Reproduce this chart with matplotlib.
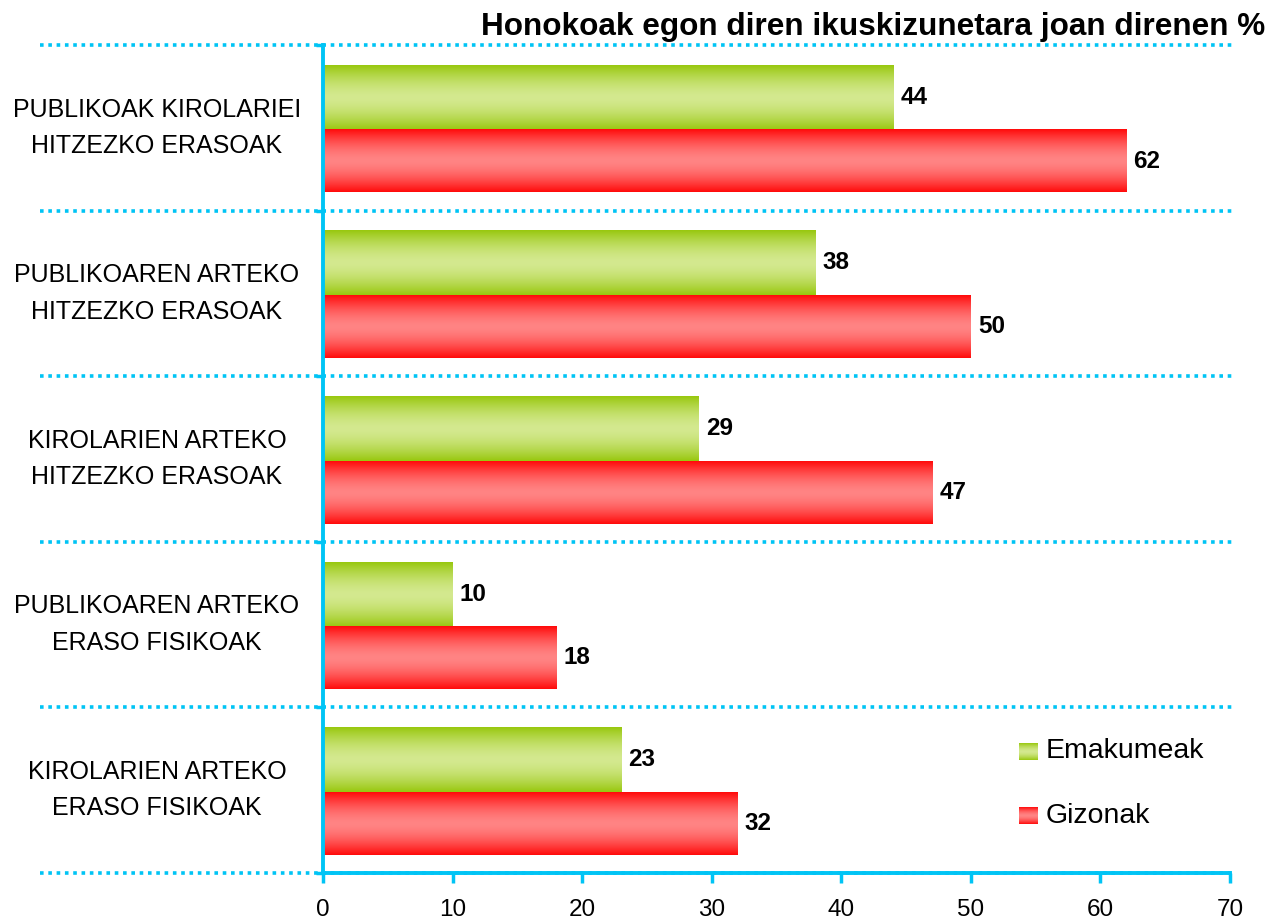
import numpy as np
import matplotlib.pyplot as plt
from matplotlib.colors import to_rgb

plt.rcParams['font.family'] = ['Liberation Sans', 'DejaVu Sans']

categories = ['PUBLIKOAK KIROLARIEI\nHITZEZKO ERASOAK',
              'PUBLIKOAREN ARTEKO\nHITZEZKO ERASOAK',
              'KIROLARIEN ARTEKO\nHITZEZKO ERASOAK',
              'PUBLIKOAREN ARTEKO\nERASO FISIKOAK',
              'KIROLARIEN ARTEKO\nERASO FISIKOAK']
emakumeak = [44, 38, 29, 10, 23]
gizonak = [62, 50, 47, 18, 32]
xticks = [0, 10, 20, 30, 40, 50, 60, 70]

cyan = '#00c4f5'
green_edge, green_mid = '#99c810', '#d4e98f'
red_edge, red_mid = '#ff0c0c', '#ff8484'


def gradient(edge, mid, n=64):
    t = np.linspace(-1, 1, n)
    w = np.clip(1 - np.abs(t) ** 1.6, 0, 1)[:, None]
    e = np.array(to_rgb(edge))
    m = np.array(to_rgb(mid))
    return (e + (m - e) * w)[:, None, :]


fig = plt.figure(figsize=(12.69, 9.22), dpi=100)
ax = fig.add_axes([0.2545, 0.0531, 0.7148, 0.8981])

y = np.arange(len(categories))
bars_e = ax.barh(y - 0.184, emakumeak, height=0.392, color='none')
bars_g = ax.barh(y + 0.201, gizonak, height=0.378, color='none')

for bars, edge, mid in [(bars_e, green_edge, green_mid), (bars_g, red_edge, red_mid)]:
    img = gradient(edge, mid)
    for b in bars:
        x0, y0 = b.get_x(), b.get_y()
        ax.imshow(img, extent=(x0, x0 + b.get_width(), y0 + b.get_height(), y0),
                  aspect='auto', interpolation='bilinear', zorder=2)
        ax.text(x0 + b.get_width() + 0.55, y0 + b.get_height() / 2, str(int(b.get_width())),
                ha='left', va='center', fontsize=17.5, fontweight='bold', zorder=3)

ax.set_xlim(0, 70)
ax.set_ylim(len(categories) - 0.5, -0.5)

# category separators, dotted, running into the label area
for s in np.arange(-0.5, len(categories), 1.0):
    ax.axhline(s, xmin=-0.312, xmax=1.006, color=cyan, lw=2.6, ls=(0, (1, 1.3)),
               clip_on=False, zorder=1)

for i, c in enumerate(categories):
    ax.text(-0.183, i, c, transform=ax.get_yaxis_transform(), ha='center', va='center',
            fontsize=18, linespacing=1.65)

ax.set_yticks(np.arange(-0.5, len(categories), 1.0))
ax.set_yticklabels([])
ax.set_xticks(xticks)
ax.tick_params(axis='x', colors=cyan, labelcolor='black', labelsize=17.5, length=7, width=2.5, pad=12)
ax.tick_params(axis='y', colors=cyan, length=5, width=2.5)

for side in ['top', 'right']:
    ax.spines[side].set_visible(False)
for side in ['left', 'bottom']:
    ax.spines[side].set_color(cyan)
    ax.spines[side].set_linewidth(2.8)

# legend with gradient swatches
for j, (lab, edge, mid) in enumerate([('Emakumeak', green_edge, green_mid), ('Gizonak', red_edge, red_mid)]):
    ly = 0.147 - j * 0.078
    ax.imshow(gradient(edge, mid), extent=(0.767, 0.787, ly - 0.010, ly + 0.010),
              transform=ax.transAxes, aspect='auto', interpolation='bilinear', zorder=3)
    ax.text(0.797, ly, lab, transform=ax.transAxes, ha='left', va='center', fontsize=20.5)

fig.text(0.997, 0.971, 'Honokoak egon diren ikuskizunetara joan direnen %', ha='right', va='center',
         fontsize=22.7, fontweight='bold')

fig.savefig('out.png', dpi=100)
